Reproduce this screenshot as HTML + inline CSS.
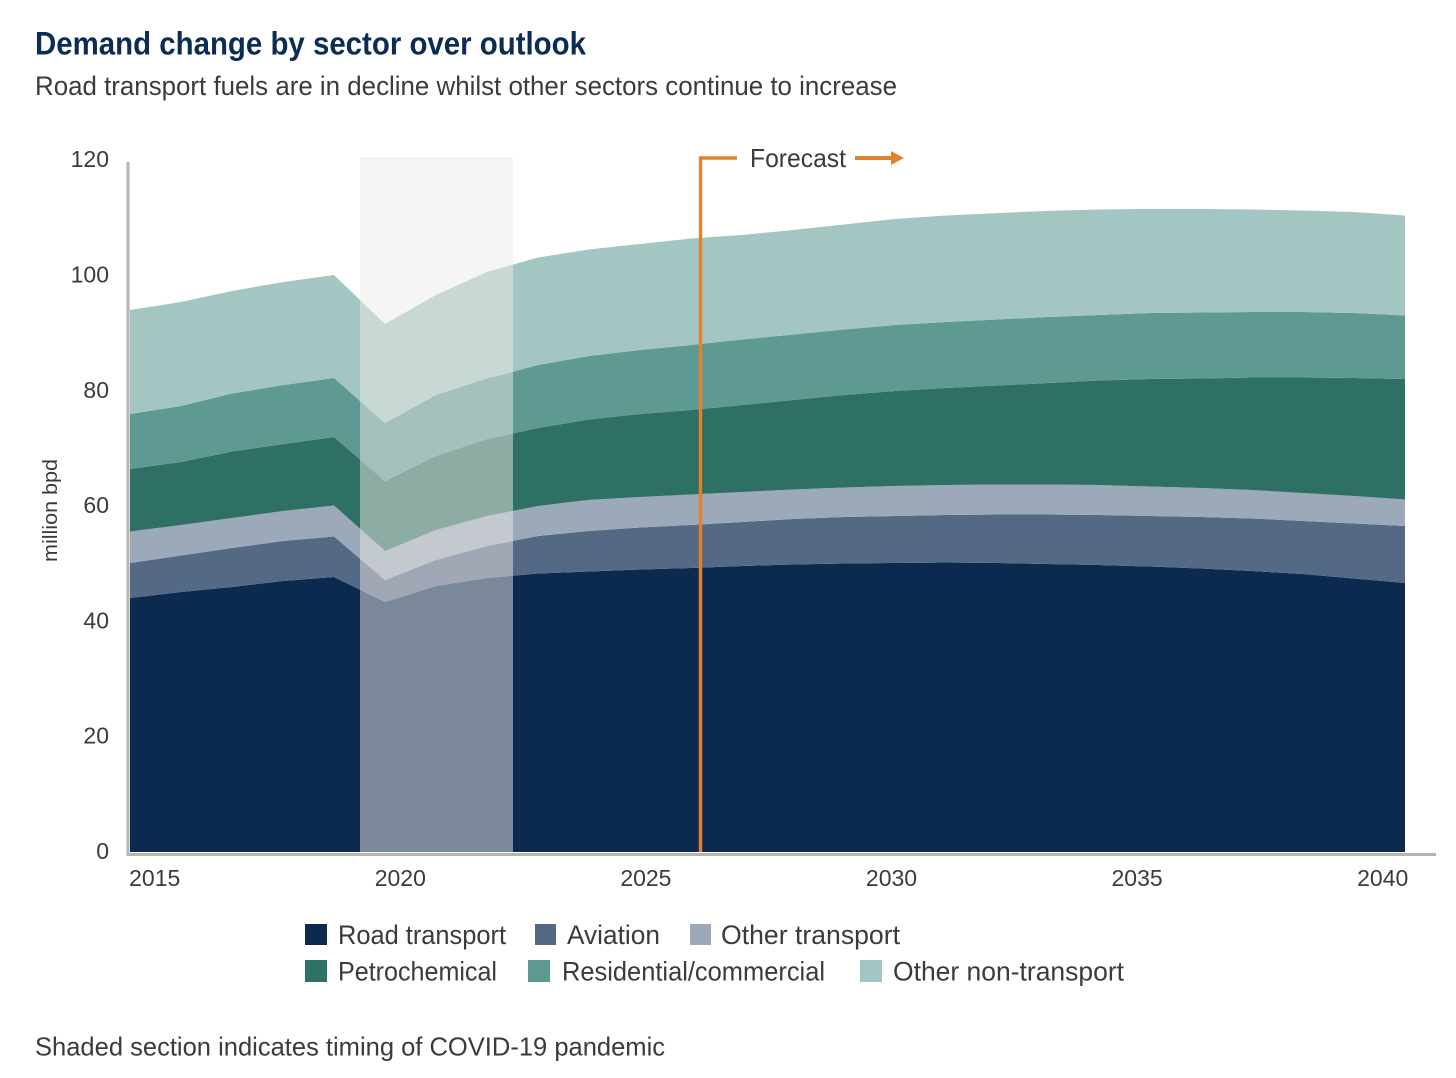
<!DOCTYPE html>
<html lang="en">
<head>
<meta charset="utf-8">
<title>Demand change by sector over outlook</title>
<style>
html,body{margin:0;padding:0;background:#fff;}
svg{display:block;}
text{font-family:"Liberation Sans",sans-serif;fill:#3d3b39;}
</style>
</head>
<body>
<svg id="chart" xmlns="http://www.w3.org/2000/svg" width="1456" height="1078" viewBox="0 0 1456 1078">
  <text x="35" y="54.5" font-size="32.5" font-weight="bold" style="fill:#0d2c54" textLength="551" lengthAdjust="spacingAndGlyphs">Demand change by sector over outlook</text>
  <text x="35" y="95" font-size="27" textLength="862" lengthAdjust="spacingAndGlyphs">Road transport fuels are in decline whilst other sectors continue to increase</text>
  <g id="areas"></g>
  <rect x="360" y="157" width="153" height="696" fill="#eeebe6" fill-opacity="0.49"/>
  <rect x="126.5" y="162" width="3" height="694" fill="#b7b5b2"/>
  <rect x="126.5" y="853" width="1309.5" height="3" fill="#b7b5b2"/>
  <g id="yticks"></g>
  <g id="xticks"></g>
  <text transform="translate(57,562) rotate(-90)" x="0" y="0" font-size="20.5" textLength="103" lengthAdjust="spacingAndGlyphs">million bpd</text>

  <path d="M700.5 852V158H737" fill="none" stroke="#e2822b" stroke-width="3.4"/>
  <text x="750" y="167" font-size="26" textLength="96" lengthAdjust="spacingAndGlyphs">Forecast</text>
  <path d="M855 156H891V151L904 158L891 165V160H855Z" fill="#e2822b"/>

  <g>
    <g>
      <rect x="305" y="924" width="22" height="21" fill="#0c2a50"/>
      <text x="338" y="944" font-size="26.5" textLength="168" lengthAdjust="spacingAndGlyphs">Road transport</text>
    </g>
    <g>
      <rect x="535" y="924" width="21" height="21" fill="#546983"/>
      <text x="567" y="944" font-size="26.5" textLength="93" lengthAdjust="spacingAndGlyphs">Aviation</text>
    </g>
    <g>
      <rect x="690" y="924" width="21" height="21" fill="#9ca9b9"/>
      <text x="721" y="944" font-size="26.5" textLength="179" lengthAdjust="spacingAndGlyphs">Other transport</text>
    </g>
    <g>
      <rect x="305" y="960" width="22" height="22" fill="#2f7065"/>
      <text x="338" y="980.5" font-size="26.5" textLength="159" lengthAdjust="spacingAndGlyphs">Petrochemical</text>
    </g>
    <g>
      <rect x="528" y="960" width="22" height="22" fill="#5f9a92"/>
      <text x="562" y="980.5" font-size="26.5" textLength="263" lengthAdjust="spacingAndGlyphs">Residential/commercial</text>
    </g>
    <g>
      <rect x="860" y="960" width="22" height="22" fill="#a3c6c2"/>
      <text x="893" y="980.5" font-size="26.5" textLength="231" lengthAdjust="spacingAndGlyphs">Other non-transport</text>
    </g>
  </g>

  <text x="35" y="1055.5" font-size="26" textLength="630" lengthAdjust="spacingAndGlyphs">Shaded section indicates timing of COVID-19 pandemic</text>
</svg>
<script>
const years = [2015,2016,2017,2018,2019,2020,2021,2022,2023,2024,2025,2026,2027,2028,2029,2030,2031,2032,2033,2034,2035,2036,2037,2038,2039,2040];
const roadTransport = [44.06,45.1,45.97,47.0,47.7,43.37,46.14,47.53,48.31,48.66,49.0,49.26,49.61,49.87,50.04,50.13,50.22,50.13,49.96,49.78,49.52,49.18,48.74,48.22,47.44,46.66];
const aviation = [6.07,6.33,6.76,6.94,7.03,3.82,4.51,5.55,6.5,7.03,7.29,7.46,7.63,7.89,8.07,8.15,8.24,8.41,8.59,8.67,8.76,8.93,9.11,9.19,9.54,9.89];
const otherTransport = [5.46,5.29,5.2,5.2,5.38,5.03,5.2,5.2,5.2,5.38,5.29,5.29,5.2,5.12,5.12,5.2,5.2,5.2,5.2,5.2,5.12,5.03,4.94,4.86,4.77,4.6];
const petrochemical = [10.84,10.93,11.54,11.62,11.88,12.14,12.84,13.36,13.53,13.96,14.4,14.66,15.09,15.52,16.05,16.48,16.83,17.17,17.61,18.13,18.65,18.99,19.51,20.03,20.47,20.9];
const residentialCommercial = [9.54,9.71,10.06,10.23,10.23,10.06,10.58,10.49,10.93,11.01,11.1,11.27,11.36,11.36,11.36,11.45,11.45,11.45,11.45,11.36,11.45,11.45,11.36,11.36,11.27,11.01];
const otherNonTransport = [18.04,18.04,17.78,17.87,17.87,17.17,17.35,18.47,18.65,18.47,18.39,18.47,18.13,18.13,18.21,18.39,18.47,18.47,18.39,18.3,18.04,17.95,17.78,17.61,17.52,17.35];
const yTickLabels = [0,20,40,60,80,100,120];
const xTickLabels = [2015,2020,2025,2030,2035,2040];

const NS = 'http://www.w3.org/2000/svg';
function xScale(year){ return 130 + (year - 2015) * 51; }
function yScale(value){ return 852 - value * 5.765; }

const bands = [
  {key:'road-transport', values:roadTransport, color:'#0c2a50'},
  {key:'aviation', values:aviation, color:'#546983'},
  {key:'other-transport', values:otherTransport, color:'#9ca9b9'},
  {key:'petrochemical', values:petrochemical, color:'#2f7065'},
  {key:'residential-commercial', values:residentialCommercial, color:'#5f9a92'},
  {key:'other-non-transport', values:otherNonTransport, color:'#a3c6c2'}
];

const areasGroup = document.getElementById('areas');
let baseline = years.map(function(){ return 0; });
bands.forEach(function(band){
  const tops = baseline.map(function(b, i){ return b + band.values[i]; });
  const upper = years.map(function(yr, i){ return xScale(yr).toFixed(1) + ' ' + yScale(tops[i]).toFixed(2); });
  const lower = years.map(function(yr, i){ return xScale(yr).toFixed(1) + ' ' + yScale(baseline[i]).toFixed(2); }).reverse();
  const path = document.createElementNS(NS, 'path');
  path.setAttribute('d', 'M' + upper.join('L') + 'L' + lower.join('L') + 'Z');
  path.setAttribute('fill', band.color);
  
  
  areasGroup.appendChild(path);
  baseline = tops;
});

const yGroup = document.getElementById('yticks');
yTickLabels.forEach(function(v){
  const t = document.createElementNS(NS, 'text');
  t.setAttribute('x', 109);
  t.setAttribute('y', yScale(v) + 7);
  t.setAttribute('font-size', '23');
  t.setAttribute('text-anchor', 'end');
  
  
  t.textContent = v;
  yGroup.appendChild(t);
});

const xGroup = document.getElementById('xticks');
xTickLabels.forEach(function(yr){
  const t = document.createElementNS(NS, 'text');
  t.setAttribute('x', 154.7 + (yr - 2015) * 49.12);
  t.setAttribute('y', 886);
  t.setAttribute('font-size', '23');
  t.setAttribute('text-anchor', 'middle');
  
  
  t.textContent = yr;
  xGroup.appendChild(t);
});
</script>
</body>
</html>
